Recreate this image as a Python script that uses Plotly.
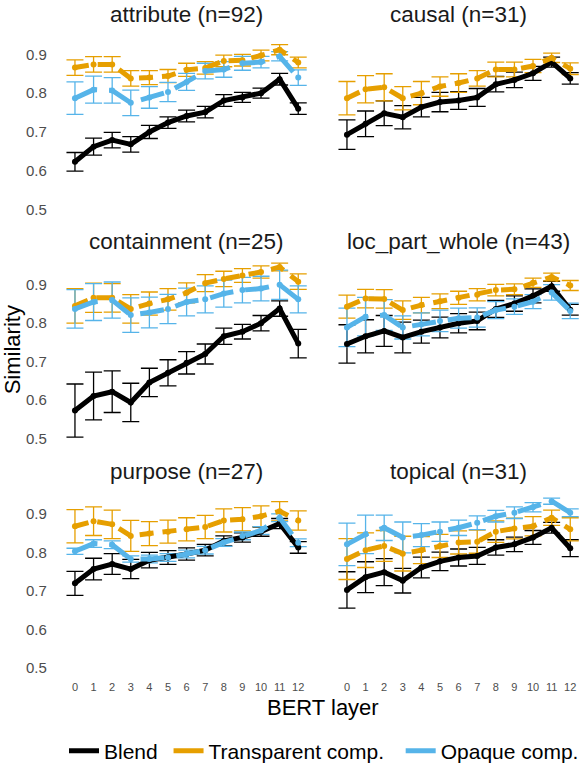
import plotly.graph_objects as go

# ---------------- data ----------------
layers = list(range(13))
x_tick_labels = [str(v) for v in layers]
y_tick_vals = [0.5, 0.6, 0.7, 0.8, 0.9]
y_tick_labels = ["0.5", "0.6", "0.7", "0.8", "0.9"]
series_names = ["Blend", "Transparent comp.", "Opaque comp."]
panel_titles = ["attribute (n=92)", "causal (n=31)", "containment (n=25)",
                "loc_part_whole (n=43)", "purpose (n=27)", "topical (n=31)"]

attribute_blend = [0.623, 0.662, 0.679, 0.668, 0.700, 0.724, 0.741, 0.751, 0.781, 0.789, 0.800, 0.836, 0.760]
attribute_blend_se = [0.024, 0.022, 0.020, 0.020, 0.017, 0.015, 0.015, 0.015, 0.015, 0.013, 0.013, 0.015, 0.015]
attribute_transp = [0.866, 0.874, 0.874, 0.838, 0.840, 0.844, 0.860, 0.865, 0.883, 0.885, 0.897, 0.912, 0.879]
attribute_transp_se = [0.020, 0.020, 0.020, 0.020, 0.018, 0.017, 0.017, 0.016, 0.015, 0.015, 0.014, 0.013, 0.014]
attribute_opaque = [0.787, 0.809, 0.807, 0.775, 0.789, 0.803, 0.829, 0.857, 0.861, 0.877, 0.880, 0.895, 0.840]
attribute_opaque_se = [0.042, 0.035, 0.033, 0.033, 0.028, 0.025, 0.022, 0.020, 0.020, 0.018, 0.015, 0.012, 0.020]

causal_blend = [0.693, 0.721, 0.748, 0.738, 0.764, 0.777, 0.781, 0.789, 0.823, 0.834, 0.851, 0.880, 0.838]
causal_blend_se = [0.038, 0.033, 0.032, 0.030, 0.025, 0.025, 0.023, 0.023, 0.020, 0.020, 0.018, 0.013, 0.015]
causal_transp = [0.787, 0.810, 0.815, 0.787, 0.800, 0.817, 0.826, 0.838, 0.861, 0.861, 0.870, 0.891, 0.863]
causal_transp_se = [0.043, 0.035, 0.035, 0.030, 0.030, 0.025, 0.024, 0.020, 0.019, 0.019, 0.017, 0.012, 0.015]
causal_opaque = [None] * 13
causal_opaque_se = [None] * 13

containment_blend = [0.573, 0.611, 0.622, 0.594, 0.646, 0.671, 0.697, 0.720, 0.766, 0.778, 0.800, 0.838, 0.747]
containment_blend_se = [0.069, 0.062, 0.054, 0.050, 0.037, 0.034, 0.029, 0.026, 0.021, 0.019, 0.020, 0.020, 0.037]
containment_transp = [0.845, 0.866, 0.866, 0.837, 0.851, 0.862, 0.879, 0.904, 0.915, 0.924, 0.933, 0.946, 0.908]
containment_transp_se = [0.045, 0.038, 0.037, 0.037, 0.030, 0.028, 0.026, 0.022, 0.020, 0.018, 0.016, 0.010, 0.020]
containment_opaque = [0.837, 0.855, 0.860, 0.821, 0.828, 0.837, 0.855, 0.862, 0.877, 0.886, 0.890, 0.900, 0.862]
containment_opaque_se = [0.050, 0.048, 0.047, 0.045, 0.040, 0.038, 0.036, 0.035, 0.035, 0.033, 0.032, 0.038, 0.035]

loc_blend = [0.746, 0.766, 0.780, 0.763, 0.778, 0.789, 0.800, 0.806, 0.837, 0.851, 0.871, 0.896, 0.835]
loc_blend_se = [0.050, 0.043, 0.040, 0.040, 0.030, 0.027, 0.025, 0.023, 0.022, 0.020, 0.018, 0.013, 0.014]
loc_transp = [0.843, 0.864, 0.863, 0.834, 0.847, 0.857, 0.866, 0.874, 0.886, 0.888, 0.905, 0.920, 0.898]
loc_transp_se = [0.030, 0.024, 0.024, 0.024, 0.020, 0.019, 0.017, 0.016, 0.015, 0.014, 0.012, 0.010, 0.013]
loc_opaque = [0.789, 0.817, 0.821, 0.789, 0.797, 0.806, 0.813, 0.815, 0.834, 0.843, 0.856, 0.880, 0.832]
loc_opaque_se = [0.050, 0.050, 0.040, 0.030, 0.030, 0.028, 0.026, 0.025, 0.022, 0.020, 0.018, 0.020, 0.020]

purpose_blend = [0.720, 0.757, 0.770, 0.757, 0.780, 0.787, 0.796, 0.806, 0.830, 0.839, 0.854, 0.875, 0.813]
purpose_blend_se = [0.031, 0.028, 0.027, 0.025, 0.020, 0.018, 0.016, 0.015, 0.013, 0.012, 0.012, 0.013, 0.015]
purpose_transp = [0.868, 0.881, 0.873, 0.843, 0.849, 0.854, 0.860, 0.866, 0.883, 0.886, 0.894, 0.907, 0.883]
purpose_transp_se = [0.043, 0.037, 0.037, 0.040, 0.031, 0.030, 0.030, 0.030, 0.030, 0.030, 0.027, 0.025, 0.025]
purpose_opaque = [0.803, 0.823, 0.820, 0.783, 0.783, 0.787, 0.796, 0.806, 0.826, 0.843, 0.857, 0.890, 0.825]
purpose_opaque_se = [0.008, 0.010, 0.010, 0.008, 0.010, 0.010, 0.010, 0.010, 0.010, 0.010, 0.010, 0.010, 0.010]

topical_blend = [0.703, 0.736, 0.749, 0.727, 0.761, 0.777, 0.787, 0.791, 0.813, 0.821, 0.839, 0.864, 0.811]
topical_blend_se = [0.047, 0.040, 0.035, 0.032, 0.027, 0.024, 0.022, 0.022, 0.020, 0.019, 0.018, 0.014, 0.022]
topical_transp = [0.783, 0.806, 0.817, 0.797, 0.806, 0.817, 0.826, 0.828, 0.854, 0.862, 0.868, 0.890, 0.860]
topical_transp_se = [0.053, 0.045, 0.040, 0.045, 0.035, 0.030, 0.030, 0.030, 0.028, 0.027, 0.025, 0.020, 0.030]
topical_opaque = [0.821, 0.847, 0.864, 0.839, 0.845, 0.854, 0.864, 0.877, 0.894, 0.903, 0.917, 0.933, 0.903]
topical_opaque_se = [0.055, 0.050, 0.033, 0.040, 0.030, 0.025, 0.020, 0.018, 0.015, 0.015, 0.012, 0.008, 0.010]

# ---------------- styling ----------------
W, H = 584, 772
FONT = "Liberation Sans, Arial, sans-serif"
colors = ["#000000", "#E69F00", "#56B4E9"]
dashes = ["solid", "14px,9px", "24px,12px"]
line_w = 5
legend_pad = ["\u00a0", "\u00a0\u00a0", ""]

panel_data = [
    [(attribute_blend, attribute_blend_se), (attribute_transp, attribute_transp_se), (attribute_opaque, attribute_opaque_se)],
    [(causal_blend, causal_blend_se), (causal_transp, causal_transp_se), (causal_opaque, causal_opaque_se)],
    [(containment_blend, containment_blend_se), (containment_transp, containment_transp_se), (containment_opaque, containment_opaque_se)],
    [(loc_blend, loc_blend_se), (loc_transp, loc_transp_se), (loc_opaque, loc_opaque_se)],
    [(purpose_blend, purpose_blend_se), (purpose_transp, purpose_transp_se), (purpose_opaque, purpose_opaque_se)],
    [(topical_blend, topical_blend_se), (topical_transp, topical_transp_se), (topical_opaque, topical_opaque_se)],
]

def px_x(p):
    return p / W

def px_y(p):
    return 1 - p / H

col_dom = [(63.8, 309.4), (335.8, 581.4)]
row_dom = [(26.5, 220.5), (259.5, 452.0), (491.0, 684.0)]
title_y = [14.2, 244.5, 476.5]

fig = go.Figure()
layout_axes = {}
annotations = []

for i, title in enumerate(panel_titles):
    r, c = divmod(i, 2)
    k = i + 1
    xa = "x" if k == 1 else f"x{k}"
    ya = "y" if k == 1 else f"y{k}"
    xname = "xaxis" if k == 1 else f"xaxis{k}"
    yname = "yaxis" if k == 1 else f"yaxis{k}"
    layout_axes[xname] = dict(
        domain=[px_x(col_dom[c][0]), px_x(col_dom[c][1])], anchor=ya,
        range=[-0.6, 12.6], showgrid=False, zeroline=False, showline=False,
        tickmode="array", tickvals=layers, ticktext=x_tick_labels,
        showticklabels=(r == 2), ticks="", ticklabelstandoff=2,
        tickfont=dict(family=FONT, size=11, color="#4D4D4D"),
    )
    layout_axes[yname] = dict(
        domain=[px_y(row_dom[r][1]), px_y(row_dom[r][0])], anchor=xa,
        range=[0.4775, 0.9725], showgrid=False, zeroline=False, showline=False,
        tickmode="array", tickvals=y_tick_vals, ticktext=y_tick_labels,
        showticklabels=(c == 0), ticks="", ticklabelstandoff=16,
        tickfont=dict(family=FONT, size=15, color="#4D4D4D"),
    )
    annotations.append(dict(
        text=title, xref="paper", yref="paper",
        x=px_x((col_dom[c][0] + col_dom[c][1]) / 2), y=px_y(title_y[r]),
        xanchor="center", yanchor="middle", showarrow=False,
        font=dict(family=FONT, size=22.5, color="#1A1A1A"),
    ))
    # error bars first (under all lines)
    for s in range(3):
        vals, se = panel_data[i][s]
        fig.add_trace(go.Scatter(
            x=layers, y=vals, xaxis=xa, yaxis=ya, mode="markers",
            marker=dict(size=1, color="rgba(0,0,0,0)"),
            error_y=dict(type="data", array=se, visible=True,
                         color=colors[s], thickness=1.3, width=8.5),
            showlegend=False, hoverinfo="skip",
        ))
    for s in range(3):
        vals, se = panel_data[i][s]
        fig.add_trace(go.Scatter(
            x=layers, y=vals, xaxis=xa, yaxis=ya, mode="lines+markers",
            line=dict(color=colors[s], width=line_w, dash=dashes[s]),
            marker=dict(size=6, color=colors[s]),
            showlegend=False, name=series_names[s],
        ))

# legend-only entries (solid keys as in the reference)
for s in range(3):
    fig.add_trace(go.Scatter(
        x=[None], y=[None], mode="lines", name=series_names[s] + legend_pad[s],
        line=dict(color=colors[s], width=line_w), showlegend=True,
    ))

annotations.append(dict(
    text="BERT layer", xref="paper", yref="paper",
    x=px_x(322.6), y=px_y(715), xanchor="center", yanchor="middle",
    showarrow=False, font=dict(family=FONT, size=22, color="#000000"),
))
annotations.append(dict(
    text="Similarity", xref="paper", yref="paper",
    x=px_x(12), y=px_y(354), xanchor="center", yanchor="middle",
    textangle=-90, showarrow=False, font=dict(family=FONT, size=22, color="#000000"),
))

fig.update_layout(
    width=W, height=H, margin=dict(l=0, r=0, t=0, b=0),
    paper_bgcolor="white", plot_bgcolor="white",
    annotations=annotations,
    showlegend=True,
    legend=dict(orientation="h", x=px_x(64), y=px_y(759), xanchor="left", yanchor="middle",
                font=dict(family=FONT, size=21, color="#000000"),
                bgcolor="rgba(0,0,0,0)", itemwidth=30, tracegroupgap=0),
    **layout_axes,
)

page_fix = (
    "var d=document.documentElement,b=document.body;"
    "d.style.margin='0';d.style.padding='0';d.style.overflow='hidden';"
    "b.style.margin='0';b.style.padding='0';b.style.overflow='hidden';"
)

fig.write_html("out.html", config={"displayModeBar": False}, post_script=page_fix)
